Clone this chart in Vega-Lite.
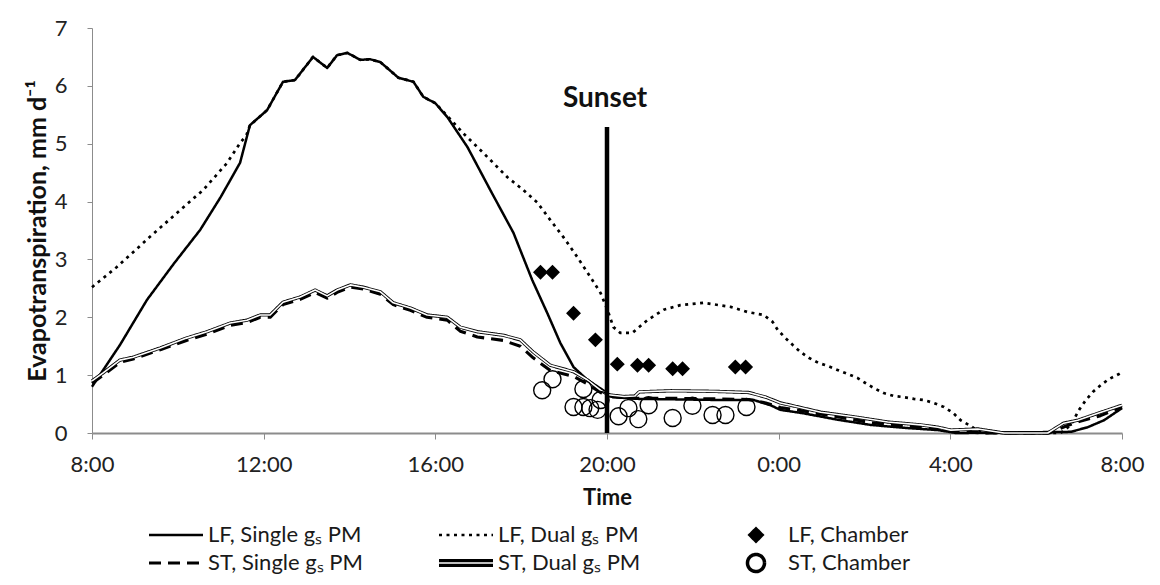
{
  "$schema": "https://vega.github.io/schema/vega-lite/v6.json",
  "width": 1030,
  "height": 405,
  "autosize": {"type": "none"},
  "padding": {"left": 92, "top": 28, "right": 38, "bottom": 152},
  "background": "white",
  "config": {
    "font": "Lato",
    "view": {"stroke": null},
    "mark": {"color": "black"},
    "axis": {
      "grid": false,
      "domainColor": "#8c8c8c",
      "tickColor": "#8c8c8c",
      "labelColor": "#222222",
      "titleColor": "#111111",
      "labelFont": "Lato",
      "titleFont": "Lato",
      "labelFontSize": 22,
      "titleFontSize": 22,
      "titleFontWeight": "bold"
    },
    "legend": {
      "gridAlign": "all",
      "columnPadding": 74,
      "rowPadding": 0,
      "clipHeight": 28,
      "symbolSize": 2916,
      "symbolStrokeWidth": 2,
      "symbolStrokeColor": "black",
      "labelFont": "Lato",
      "labelFontSize": 22,
      "labelColor": "#1a1a1a",
      "labelOffset": 3,
      "padding": 0,
      "symbolOffset": 0,
      "labelLimit": 400
    }
  },
  "datasets": {
    "model": [
      {"h": 8.0, "et": 0.80, "s": "LF, Single gₛ PM"},
      {"h": 8.65, "et": 1.52, "s": "LF, Single gₛ PM"},
      {"h": 9.28, "et": 2.30, "s": "LF, Single gₛ PM"},
      {"h": 9.9, "et": 2.92, "s": "LF, Single gₛ PM"},
      {"h": 10.52, "et": 3.51, "s": "LF, Single gₛ PM"},
      {"h": 11.0, "et": 4.08, "s": "LF, Single gₛ PM"},
      {"h": 11.45, "et": 4.67, "s": "LF, Single gₛ PM"},
      {"h": 11.68, "et": 5.32, "s": "LF, Single gₛ PM"},
      {"h": 12.08, "et": 5.58, "s": "LF, Single gₛ PM"},
      {"h": 12.45, "et": 6.07, "s": "LF, Single gₛ PM"},
      {"h": 12.73, "et": 6.10, "s": "LF, Single gₛ PM"},
      {"h": 13.15, "et": 6.50, "s": "LF, Single gₛ PM"},
      {"h": 13.48, "et": 6.31, "s": "LF, Single gₛ PM"},
      {"h": 13.71, "et": 6.53, "s": "LF, Single gₛ PM"},
      {"h": 13.95, "et": 6.57, "s": "LF, Single gₛ PM"},
      {"h": 14.25, "et": 6.45, "s": "LF, Single gₛ PM"},
      {"h": 14.48, "et": 6.46, "s": "LF, Single gₛ PM"},
      {"h": 14.72, "et": 6.41, "s": "LF, Single gₛ PM"},
      {"h": 15.14, "et": 6.14, "s": "LF, Single gₛ PM"},
      {"h": 15.49, "et": 6.07, "s": "LF, Single gₛ PM"},
      {"h": 15.72, "et": 5.81, "s": "LF, Single gₛ PM"},
      {"h": 16.0, "et": 5.70, "s": "LF, Single gₛ PM"},
      {"h": 16.28, "et": 5.46, "s": "LF, Single gₛ PM"},
      {"h": 16.75, "et": 4.94, "s": "LF, Single gₛ PM"},
      {"h": 17.28, "et": 4.20, "s": "LF, Single gₛ PM"},
      {"h": 17.82, "et": 3.46, "s": "LF, Single gₛ PM"},
      {"h": 18.26, "et": 2.64, "s": "LF, Single gₛ PM"},
      {"h": 18.61, "et": 2.07, "s": "LF, Single gₛ PM"},
      {"h": 18.91, "et": 1.56, "s": "LF, Single gₛ PM"},
      {"h": 19.22, "et": 1.14, "s": "LF, Single gₛ PM"},
      {"h": 19.54, "et": 0.92, "s": "LF, Single gₛ PM"},
      {"h": 20.01, "et": 0.69, "s": "LF, Single gₛ PM"},
      {"h": 20.13, "et": 0.62, "s": "LF, Single gₛ PM"},
      {"h": 20.71, "et": 0.59, "s": "LF, Single gₛ PM"},
      {"h": 21.71, "et": 0.58, "s": "LF, Single gₛ PM"},
      {"h": 22.65, "et": 0.57, "s": "LF, Single gₛ PM"},
      {"h": 23.42, "et": 0.57, "s": "LF, Single gₛ PM"},
      {"h": 23.81, "et": 0.48, "s": "LF, Single gₛ PM"},
      {"h": 24.04, "et": 0.40, "s": "LF, Single gₛ PM"},
      {"h": 24.58, "et": 0.34, "s": "LF, Single gₛ PM"},
      {"h": 25.37, "et": 0.23, "s": "LF, Single gₛ PM"},
      {"h": 26.14, "et": 0.14, "s": "LF, Single gₛ PM"},
      {"h": 26.91, "et": 0.09, "s": "LF, Single gₛ PM"},
      {"h": 27.71, "et": 0.05, "s": "LF, Single gₛ PM"},
      {"h": 28.13, "et": 0.0, "s": "LF, Single gₛ PM"},
      {"h": 30.81, "et": 0.02, "s": "LF, Single gₛ PM"},
      {"h": 31.2, "et": 0.10, "s": "LF, Single gₛ PM"},
      {"h": 31.58, "et": 0.22, "s": "LF, Single gₛ PM"},
      {"h": 32.0, "et": 0.43, "s": "LF, Single gₛ PM"},

      {"h": 8.0, "et": 2.52, "s": "LF, Dual gₛ PM"},
      {"h": 8.58, "et": 2.87, "s": "LF, Dual gₛ PM"},
      {"h": 9.35, "et": 3.39, "s": "LF, Dual gₛ PM"},
      {"h": 10.05, "et": 3.85, "s": "LF, Dual gₛ PM"},
      {"h": 10.59, "et": 4.20, "s": "LF, Dual gₛ PM"},
      {"h": 11.15, "et": 4.67, "s": "LF, Dual gₛ PM"},
      {"h": 11.45, "et": 5.01, "s": "LF, Dual gₛ PM"},
      {"h": 11.6, "et": 5.15, "s": "LF, Dual gₛ PM"},
      {"h": 11.68, "et": 5.32, "s": "LF, Dual gₛ PM"},
      {"h": 12.08, "et": 5.58, "s": "LF, Dual gₛ PM"},
      {"h": 12.45, "et": 6.07, "s": "LF, Dual gₛ PM"},
      {"h": 12.73, "et": 6.10, "s": "LF, Dual gₛ PM"},
      {"h": 13.15, "et": 6.50, "s": "LF, Dual gₛ PM"},
      {"h": 13.48, "et": 6.31, "s": "LF, Dual gₛ PM"},
      {"h": 13.71, "et": 6.53, "s": "LF, Dual gₛ PM"},
      {"h": 13.95, "et": 6.57, "s": "LF, Dual gₛ PM"},
      {"h": 14.25, "et": 6.45, "s": "LF, Dual gₛ PM"},
      {"h": 14.48, "et": 6.46, "s": "LF, Dual gₛ PM"},
      {"h": 14.72, "et": 6.41, "s": "LF, Dual gₛ PM"},
      {"h": 15.14, "et": 6.14, "s": "LF, Dual gₛ PM"},
      {"h": 15.49, "et": 6.07, "s": "LF, Dual gₛ PM"},
      {"h": 15.72, "et": 5.81, "s": "LF, Dual gₛ PM"},
      {"h": 16.0, "et": 5.70, "s": "LF, Dual gₛ PM"},
      {"h": 16.28, "et": 5.48, "s": "LF, Dual gₛ PM"},
      {"h": 16.65, "et": 5.18, "s": "LF, Dual gₛ PM"},
      {"h": 17.12, "et": 4.84, "s": "LF, Dual gₛ PM"},
      {"h": 17.68, "et": 4.42, "s": "LF, Dual gₛ PM"},
      {"h": 18.05, "et": 4.20, "s": "LF, Dual gₛ PM"},
      {"h": 18.38, "et": 3.98, "s": "LF, Dual gₛ PM"},
      {"h": 18.68, "et": 3.68, "s": "LF, Dual gₛ PM"},
      {"h": 18.98, "et": 3.39, "s": "LF, Dual gₛ PM"},
      {"h": 19.31, "et": 3.04, "s": "LF, Dual gₛ PM"},
      {"h": 19.61, "et": 2.70, "s": "LF, Dual gₛ PM"},
      {"h": 19.85, "et": 2.42, "s": "LF, Dual gₛ PM"},
      {"h": 20.01, "et": 2.13, "s": "LF, Dual gₛ PM"},
      {"h": 20.15, "et": 1.83, "s": "LF, Dual gₛ PM"},
      {"h": 20.31, "et": 1.73, "s": "LF, Dual gₛ PM"},
      {"h": 20.59, "et": 1.73, "s": "LF, Dual gₛ PM"},
      {"h": 20.94, "et": 1.95, "s": "LF, Dual gₛ PM"},
      {"h": 21.32, "et": 2.13, "s": "LF, Dual gₛ PM"},
      {"h": 21.71, "et": 2.21, "s": "LF, Dual gₛ PM"},
      {"h": 22.25, "et": 2.25, "s": "LF, Dual gₛ PM"},
      {"h": 22.88, "et": 2.18, "s": "LF, Dual gₛ PM"},
      {"h": 23.28, "et": 2.09, "s": "LF, Dual gₛ PM"},
      {"h": 23.65, "et": 2.04, "s": "LF, Dual gₛ PM"},
      {"h": 23.86, "et": 1.92, "s": "LF, Dual gₛ PM"},
      {"h": 23.98, "et": 1.78, "s": "LF, Dual gₛ PM"},
      {"h": 24.16, "et": 1.64, "s": "LF, Dual gₛ PM"},
      {"h": 24.33, "et": 1.52, "s": "LF, Dual gₛ PM"},
      {"h": 24.51, "et": 1.40, "s": "LF, Dual gₛ PM"},
      {"h": 24.7, "et": 1.30, "s": "LF, Dual gₛ PM"},
      {"h": 24.93, "et": 1.21, "s": "LF, Dual gₛ PM"},
      {"h": 25.14, "et": 1.16, "s": "LF, Dual gₛ PM"},
      {"h": 25.37, "et": 1.09, "s": "LF, Dual gₛ PM"},
      {"h": 25.61, "et": 1.02, "s": "LF, Dual gₛ PM"},
      {"h": 25.84, "et": 0.95, "s": "LF, Dual gₛ PM"},
      {"h": 26.03, "et": 0.86, "s": "LF, Dual gₛ PM"},
      {"h": 26.21, "et": 0.78, "s": "LF, Dual gₛ PM"},
      {"h": 26.45, "et": 0.69, "s": "LF, Dual gₛ PM"},
      {"h": 26.68, "et": 0.64, "s": "LF, Dual gₛ PM"},
      {"h": 26.91, "et": 0.62, "s": "LF, Dual gₛ PM"},
      {"h": 27.15, "et": 0.59, "s": "LF, Dual gₛ PM"},
      {"h": 27.38, "et": 0.57, "s": "LF, Dual gₛ PM"},
      {"h": 27.61, "et": 0.52, "s": "LF, Dual gₛ PM"},
      {"h": 27.85, "et": 0.45, "s": "LF, Dual gₛ PM"},
      {"h": 28.06, "et": 0.35, "s": "LF, Dual gₛ PM"},
      {"h": 28.24, "et": 0.22, "s": "LF, Dual gₛ PM"},
      {"h": 28.43, "et": 0.14, "s": "LF, Dual gₛ PM"},
      {"h": 28.62, "et": 0.05, "s": "LF, Dual gₛ PM"},
      {"h": 28.83, "et": 0.0, "s": "LF, Dual gₛ PM"},
      {"h": 30.57, "et": 0.0, "s": "LF, Dual gₛ PM"},
      {"h": 30.81, "et": 0.14, "s": "LF, Dual gₛ PM"},
      {"h": 31.0, "et": 0.40, "s": "LF, Dual gₛ PM"},
      {"h": 31.16, "et": 0.57, "s": "LF, Dual gₛ PM"},
      {"h": 31.32, "et": 0.71, "s": "LF, Dual gₛ PM"},
      {"h": 31.51, "et": 0.83, "s": "LF, Dual gₛ PM"},
      {"h": 31.69, "et": 0.93, "s": "LF, Dual gₛ PM"},
      {"h": 31.93, "et": 1.02, "s": "LF, Dual gₛ PM"},
      {"h": 32.0, "et": 1.05, "s": "LF, Dual gₛ PM"},

      {"h": 8.0, "et": 0.86, "s": "ST, Single gₛ PM"},
      {"h": 8.26, "et": 1.00, "s": "ST, Single gₛ PM"},
      {"h": 8.65, "et": 1.22, "s": "ST, Single gₛ PM"},
      {"h": 8.96, "et": 1.28, "s": "ST, Single gₛ PM"},
      {"h": 9.59, "et": 1.44, "s": "ST, Single gₛ PM"},
      {"h": 10.2, "et": 1.60, "s": "ST, Single gₛ PM"},
      {"h": 10.68, "et": 1.71, "s": "ST, Single gₛ PM"},
      {"h": 11.22, "et": 1.86, "s": "ST, Single gₛ PM"},
      {"h": 11.61, "et": 1.91, "s": "ST, Single gₛ PM"},
      {"h": 11.92, "et": 2.00, "s": "ST, Single gₛ PM"},
      {"h": 12.15, "et": 2.00, "s": "ST, Single gₛ PM"},
      {"h": 12.45, "et": 2.22, "s": "ST, Single gₛ PM"},
      {"h": 12.85, "et": 2.31, "s": "ST, Single gₛ PM"},
      {"h": 13.2, "et": 2.43, "s": "ST, Single gₛ PM"},
      {"h": 13.48, "et": 2.33, "s": "ST, Single gₛ PM"},
      {"h": 13.71, "et": 2.43, "s": "ST, Single gₛ PM"},
      {"h": 14.02, "et": 2.52, "s": "ST, Single gₛ PM"},
      {"h": 14.32, "et": 2.49, "s": "ST, Single gₛ PM"},
      {"h": 14.72, "et": 2.40, "s": "ST, Single gₛ PM"},
      {"h": 15.02, "et": 2.22, "s": "ST, Single gₛ PM"},
      {"h": 15.42, "et": 2.12, "s": "ST, Single gₛ PM"},
      {"h": 15.81, "et": 2.00, "s": "ST, Single gₛ PM"},
      {"h": 16.28, "et": 1.95, "s": "ST, Single gₛ PM"},
      {"h": 16.58, "et": 1.76, "s": "ST, Single gₛ PM"},
      {"h": 16.98, "et": 1.66, "s": "ST, Single gₛ PM"},
      {"h": 17.58, "et": 1.60, "s": "ST, Single gₛ PM"},
      {"h": 17.98, "et": 1.50, "s": "ST, Single gₛ PM"},
      {"h": 18.28, "et": 1.30, "s": "ST, Single gₛ PM"},
      {"h": 18.68, "et": 1.08, "s": "ST, Single gₛ PM"},
      {"h": 19.22, "et": 0.98, "s": "ST, Single gₛ PM"},
      {"h": 19.54, "et": 0.85, "s": "ST, Single gₛ PM"},
      {"h": 19.85, "et": 0.70, "s": "ST, Single gₛ PM"},
      {"h": 20.03, "et": 0.64, "s": "ST, Single gₛ PM"},
      {"h": 20.5, "et": 0.60, "s": "ST, Single gₛ PM"},
      {"h": 21.5, "et": 0.60, "s": "ST, Single gₛ PM"},
      {"h": 22.5, "et": 0.59, "s": "ST, Single gₛ PM"},
      {"h": 23.3, "et": 0.58, "s": "ST, Single gₛ PM"},
      {"h": 23.7, "et": 0.52, "s": "ST, Single gₛ PM"},
      {"h": 24.04, "et": 0.44, "s": "ST, Single gₛ PM"},
      {"h": 24.58, "et": 0.38, "s": "ST, Single gₛ PM"},
      {"h": 25.37, "et": 0.28, "s": "ST, Single gₛ PM"},
      {"h": 26.14, "et": 0.18, "s": "ST, Single gₛ PM"},
      {"h": 26.91, "et": 0.12, "s": "ST, Single gₛ PM"},
      {"h": 27.71, "et": 0.07, "s": "ST, Single gₛ PM"},
      {"h": 28.3, "et": 0.02, "s": "ST, Single gₛ PM"},
      {"h": 28.8, "et": 0.0, "s": "ST, Single gₛ PM"},
      {"h": 30.3, "et": 0.0, "s": "ST, Single gₛ PM"},
      {"h": 30.7, "et": 0.12, "s": "ST, Single gₛ PM"},
      {"h": 31.0, "et": 0.20, "s": "ST, Single gₛ PM"},
      {"h": 31.5, "et": 0.30, "s": "ST, Single gₛ PM"},
      {"h": 32.0, "et": 0.45, "s": "ST, Single gₛ PM"},

      {"h": 8.0, "et": 0.90, "s": "ST, Dual gₛ PM"},
      {"h": 8.26, "et": 1.04, "s": "ST, Dual gₛ PM"},
      {"h": 8.65, "et": 1.26, "s": "ST, Dual gₛ PM"},
      {"h": 8.96, "et": 1.31, "s": "ST, Dual gₛ PM"},
      {"h": 9.59, "et": 1.47, "s": "ST, Dual gₛ PM"},
      {"h": 10.2, "et": 1.64, "s": "ST, Dual gₛ PM"},
      {"h": 10.68, "et": 1.75, "s": "ST, Dual gₛ PM"},
      {"h": 11.22, "et": 1.90, "s": "ST, Dual gₛ PM"},
      {"h": 11.61, "et": 1.95, "s": "ST, Dual gₛ PM"},
      {"h": 11.92, "et": 2.04, "s": "ST, Dual gₛ PM"},
      {"h": 12.15, "et": 2.04, "s": "ST, Dual gₛ PM"},
      {"h": 12.45, "et": 2.26, "s": "ST, Dual gₛ PM"},
      {"h": 12.85, "et": 2.35, "s": "ST, Dual gₛ PM"},
      {"h": 13.2, "et": 2.47, "s": "ST, Dual gₛ PM"},
      {"h": 13.48, "et": 2.37, "s": "ST, Dual gₛ PM"},
      {"h": 13.71, "et": 2.47, "s": "ST, Dual gₛ PM"},
      {"h": 14.02, "et": 2.56, "s": "ST, Dual gₛ PM"},
      {"h": 14.32, "et": 2.52, "s": "ST, Dual gₛ PM"},
      {"h": 14.72, "et": 2.44, "s": "ST, Dual gₛ PM"},
      {"h": 15.02, "et": 2.25, "s": "ST, Dual gₛ PM"},
      {"h": 15.42, "et": 2.16, "s": "ST, Dual gₛ PM"},
      {"h": 15.81, "et": 2.04, "s": "ST, Dual gₛ PM"},
      {"h": 16.28, "et": 2.00, "s": "ST, Dual gₛ PM"},
      {"h": 16.58, "et": 1.83, "s": "ST, Dual gₛ PM"},
      {"h": 16.98, "et": 1.75, "s": "ST, Dual gₛ PM"},
      {"h": 17.58, "et": 1.69, "s": "ST, Dual gₛ PM"},
      {"h": 17.98, "et": 1.61, "s": "ST, Dual gₛ PM"},
      {"h": 18.28, "et": 1.40, "s": "ST, Dual gₛ PM"},
      {"h": 18.68, "et": 1.17, "s": "ST, Dual gₛ PM"},
      {"h": 19.22, "et": 1.06, "s": "ST, Dual gₛ PM"},
      {"h": 19.54, "et": 0.92, "s": "ST, Dual gₛ PM"},
      {"h": 19.85, "et": 0.74, "s": "ST, Dual gₛ PM"},
      {"h": 20.03, "et": 0.66, "s": "ST, Dual gₛ PM"},
      {"h": 20.4, "et": 0.63, "s": "ST, Dual gₛ PM"},
      {"h": 20.65, "et": 0.64, "s": "ST, Dual gₛ PM"},
      {"h": 20.75, "et": 0.71, "s": "ST, Dual gₛ PM"},
      {"h": 21.5, "et": 0.73, "s": "ST, Dual gₛ PM"},
      {"h": 22.5, "et": 0.72, "s": "ST, Dual gₛ PM"},
      {"h": 23.3, "et": 0.70, "s": "ST, Dual gₛ PM"},
      {"h": 23.7, "et": 0.62, "s": "ST, Dual gₛ PM"},
      {"h": 24.04, "et": 0.52, "s": "ST, Dual gₛ PM"},
      {"h": 24.28, "et": 0.48, "s": "ST, Dual gₛ PM"},
      {"h": 24.98, "et": 0.36, "s": "ST, Dual gₛ PM"},
      {"h": 25.75, "et": 0.28, "s": "ST, Dual gₛ PM"},
      {"h": 26.54, "et": 0.19, "s": "ST, Dual gₛ PM"},
      {"h": 27.31, "et": 0.14, "s": "ST, Dual gₛ PM"},
      {"h": 27.71, "et": 0.10, "s": "ST, Dual gₛ PM"},
      {"h": 28.01, "et": 0.05, "s": "ST, Dual gₛ PM"},
      {"h": 28.64, "et": 0.07, "s": "ST, Dual gₛ PM"},
      {"h": 29.25, "et": 0.0, "s": "ST, Dual gₛ PM"},
      {"h": 30.27, "et": 0.0, "s": "ST, Dual gₛ PM"},
      {"h": 30.64, "et": 0.17, "s": "ST, Dual gₛ PM"},
      {"h": 30.97, "et": 0.22, "s": "ST, Dual gₛ PM"},
      {"h": 31.44, "et": 0.34, "s": "ST, Dual gₛ PM"},
      {"h": 32.0, "et": 0.48, "s": "ST, Dual gₛ PM"}
    ],
    "chamber": [
      {"h": 18.45, "et": 2.78, "s": "LF, Chamber"},
      {"h": 18.73, "et": 2.78, "s": "LF, Chamber"},
      {"h": 19.22, "et": 2.07, "s": "LF, Chamber"},
      {"h": 19.73, "et": 1.61, "s": "LF, Chamber"},
      {"h": 20.24, "et": 1.19, "s": "LF, Chamber"},
      {"h": 20.71, "et": 1.17, "s": "LF, Chamber"},
      {"h": 20.97, "et": 1.17, "s": "LF, Chamber"},
      {"h": 21.53, "et": 1.11, "s": "LF, Chamber"},
      {"h": 21.76, "et": 1.11, "s": "LF, Chamber"},
      {"h": 22.99, "et": 1.14, "s": "LF, Chamber"},
      {"h": 23.23, "et": 1.14, "s": "LF, Chamber"},
      {"h": 18.49, "et": 0.74, "s": "ST, Chamber"},
      {"h": 18.73, "et": 0.93, "s": "ST, Chamber"},
      {"h": 19.22, "et": 0.45, "s": "ST, Chamber"},
      {"h": 19.45, "et": 0.45, "s": "ST, Chamber"},
      {"h": 19.45, "et": 0.76, "s": "ST, Chamber"},
      {"h": 19.61, "et": 0.43, "s": "ST, Chamber"},
      {"h": 19.78, "et": 0.40, "s": "ST, Chamber"},
      {"h": 19.85, "et": 0.57, "s": "ST, Chamber"},
      {"h": 20.27, "et": 0.29, "s": "ST, Chamber"},
      {"h": 20.5, "et": 0.43, "s": "ST, Chamber"},
      {"h": 20.73, "et": 0.24, "s": "ST, Chamber"},
      {"h": 20.97, "et": 0.48, "s": "ST, Chamber"},
      {"h": 21.53, "et": 0.26, "s": "ST, Chamber"},
      {"h": 21.99, "et": 0.47, "s": "ST, Chamber"},
      {"h": 22.46, "et": 0.31, "s": "ST, Chamber"},
      {"h": 22.76, "et": 0.31, "s": "ST, Chamber"},
      {"h": 23.25, "et": 0.45, "s": "ST, Chamber"}
    ],
    "sunset": [
      {"h": 20, "low": 0, "high": 5.29, "labelY": 5.78, "label": "Sunset"}
    ]
  },
  "encoding": {
    "x": {
      "field": "h",
      "type": "quantitative",
      "scale": {"domain": [8, 32], "nice": false, "zero": false},
      "axis": {
        "values": [8, 12, 16, 20, 24, 28, 32],
        "labelExpr": "(datum.value % 24) + ':00'",
        "title": "Time",
        "tickSize": 6,
        "labelPadding": 15,
        "titlePadding": 12,
        "domainWidth": 2,
        "labelFlush": false
      }
    },
    "y": {
      "field": "et",
      "type": "quantitative",
      "scale": {"domain": [0, 7], "nice": false},
      "axis": {
        "values": [0, 1, 2, 3, 4, 5, 6, 7],
        "title": "Evapotranspiration, mm d⁻¹",
        "titleFontSize": 25,
        "tickSize": 5,
        "labelPadding": 20,
        "titlePadding": 4
      }
    }
  },
  "layer": [
    {
      "data": {"name": "model"},
      "mark": {"type": "line", "color": "black", "strokeJoin": "round"},
      "encoding": {
        "strokeDash": {
          "field": "s",
          "type": "nominal",
          "scale": {
            "domain": ["LF, Single gₛ PM", "LF, Dual gₛ PM", "LF, Chamber", "ST, Single gₛ PM", "ST, Dual gₛ PM", "ST, Chamber"],
            "range": [[1, 0], [3, 4.5], [1, 0], [12, 7], [1, 0], [1, 0]]
          },
          "legend": {"title": null, "orient": "none", "legendX": 55, "legendY": 493, "columns": 3, "direction": "horizontal", "symbolStrokeColor": "black"}
        },
        "strokeWidth": {
          "field": "s",
          "type": "nominal",
          "scale": {
            "domain": ["LF, Single gₛ PM", "LF, Dual gₛ PM", "LF, Chamber", "ST, Single gₛ PM", "ST, Dual gₛ PM", "ST, Chamber"],
            "range": [2.5, 3.5, 1.5, 2.5, 5, 1.5]
          },
          "legend": null
        }
      }
    },
    {
      "data": {"name": "model"},
      "transform": [{"filter": "datum.s === 'ST, Dual gₛ PM'"}],
      "mark": {"type": "line", "color": "white", "strokeWidth": 1.6, "strokeJoin": "round"},
      "encoding": {}
    },
    {
      "data": {"name": "chamber"},
      "mark": {"type": "point", "size": 2916, "strokeWidth": 1.4, "opacity": 1, "color": "black"},
      "encoding": {
        "shape": {
          "field": "s",
          "type": "nominal",
          "scale": {
            "domain": ["LF, Single gₛ PM", "LF, Dual gₛ PM", "LF, Chamber", "ST, Single gₛ PM", "ST, Dual gₛ PM", "ST, Chamber"],
            "range": [
              "M-1,0H1",
              "M-1,0H1",
              "M0,-0.24L0.24,0L0,0.24L-0.24,0Z",
              "M-1,0H1",
              "M-1,-0.085H1M-1,0.085H1",
              "M0.315,0A0.315,0.315,0,1,1,-0.315,0A0.315,0.315,0,1,1,0.315,0Z"
            ]
          },
          "legend": {"title": null, "orient": "none", "legendX": 55, "legendY": 493, "columns": 3, "direction": "horizontal", "symbolStrokeColor": "black"}
        },
        "fill": {
          "field": "s",
          "type": "nominal",
          "scale": {
            "domain": ["LF, Single gₛ PM", "LF, Dual gₛ PM", "LF, Chamber", "ST, Single gₛ PM", "ST, Dual gₛ PM", "ST, Chamber"],
            "range": ["transparent", "transparent", "black", "transparent", "transparent", "transparent"]
          },
          "legend": {"title": null, "orient": "none", "legendX": 55, "legendY": 493, "columns": 3, "direction": "horizontal", "symbolStrokeColor": "black"}
        },
        "stroke": {
          "field": "s",
          "type": "nominal",
          "scale": {
            "domain": ["LF, Single gₛ PM", "LF, Dual gₛ PM", "LF, Chamber", "ST, Single gₛ PM", "ST, Dual gₛ PM", "ST, Chamber"],
            "range": ["black", "black", "black", "black", "black", "black"]
          },
          "legend": {"title": null, "orient": "none", "legendX": 55, "legendY": 493, "columns": 3, "direction": "horizontal", "symbolStrokeColor": "black"}
        }
      }
    },
    {
      "data": {"name": "sunset"},
      "mark": {"type": "rule", "color": "black", "strokeWidth": 4.5},
      "encoding": {
        "x": {"field": "h", "type": "quantitative"},
        "y": {"field": "low", "type": "quantitative"},
        "y2": {"field": "high"}
      }
    },
    {
      "data": {"name": "sunset"},
      "mark": {"type": "text", "fontSize": 28, "fontWeight": "bold", "font": "Lato", "align": "center", "baseline": "middle", "dx": -2, "color": "#111111"},
      "encoding": {
        "x": {"field": "h", "type": "quantitative"},
        "y": {"field": "labelY", "type": "quantitative"},
        "text": {"field": "label"}
      }
    }
  ]
}
